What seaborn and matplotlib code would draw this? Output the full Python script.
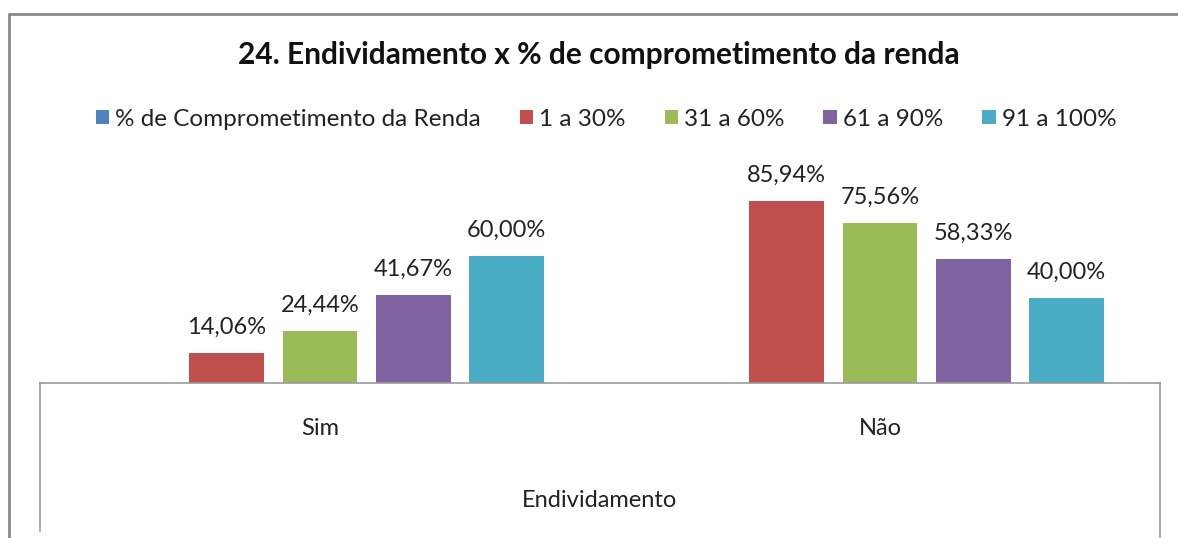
import pandas as pd
import matplotlib
matplotlib.use('Agg')
import matplotlib.pyplot as plt
from matplotlib.lines import Line2D
import seaborn as sns

# dados
categorias = ['Sim', 'Não']
series = ['% de Comprometimento da Renda', '1 a 30%', '31 a 60%', '61 a 90%', '91 a 100%']
valores_sim = [0.0, 14.06, 24.44, 41.67, 60.00]
valores_nao = [0.0, 85.94, 75.56, 58.33, 40.00]
cores = ['#4F81BD', '#C0504D', '#9BBB59', '#8064A2', '#4BACC6']

rows = []
for s, v in zip(series, valores_sim):
    rows.append({'Endividamento': 'Sim', 'serie': s, 'valor': v})
for s, v in zip(series, valores_nao):
    rows.append({'Endividamento': 'Não', 'serie': s, 'valor': v})
df = pd.DataFrame(rows)

sns.set_style('white')
plt.rcParams['font.family'] = ['Lato', 'DejaVu Sans']

fig = plt.figure(figsize=(11.78, 5.38), dpi=100)
ax = fig.add_axes([40/1178, 155/538, 1120/1178, 212/538])

sns.barplot(data=df, x='Endividamento', y='valor', hue='serie', order=categorias,
            hue_order=series, palette=cores, width=5/6, gap=0.2, linewidth=0,
            saturation=1, ax=ax)

ax.set_xlim(-0.5, 1.5)
ax.set_ylim(0, 100)
ax.set_yticks([])
ax.set_ylabel('')
for sp in ['top', 'left', 'right']:
    ax.spines[sp].set_visible(False)
ax.spines['bottom'].set_color('#9a9a9a')
ax.spines['bottom'].set_linewidth(1.2)
ax.tick_params(axis='x', length=0, pad=25, labelsize=17, labelcolor='#222222')
ax.set_xlabel('Endividamento', fontsize=17, color='#222222', labelpad=37)

# rotulos de dados (a primeira serie nao tem barras)
for cont in ax.containers[1:]:
    labels = [f'{b.get_height():.2f}%'.replace('.', ',') for b in cont]
    ax.bar_label(cont, labels=labels, padding=11, fontsize=17, color='#222222')

handles, labs = ax.get_legend_handles_labels()
ax.legend(handles, labs, ncol=5, loc='center', bbox_to_anchor=(606/1178, 1 - 119/538),
          bbox_transform=fig.transFigure, frameon=False, fontsize=17.5,
          handlelength=0.55, handleheight=0.55, handletextpad=0.25, columnspacing=1.6,
          labelcolor='#222222')

fig.text(599/1178, 1 - 55/538, '24. Endividamento x % de comprometimento da renda',
         ha='center', va='center', fontsize=21.5, fontweight='bold', color='#111111')

# linhas da tabela do eixo de categorias
ax.add_line(Line2D([0, 0], [0, -0.70], transform=ax.transAxes, color='#9a9a9a', lw=1.2, clip_on=False))
ax.add_line(Line2D([1, 1], [0, -0.75], transform=ax.transAxes, color='#9a9a9a', lw=1.2, clip_on=False))

# moldura externa
fig.add_artist(Line2D([9/1178, 9/1178], [0, 1 - 14/538], transform=fig.transFigure, color='#8a8a8a', lw=2))
fig.add_artist(Line2D([9/1178, 1], [1 - 14/538, 1 - 14/538], transform=fig.transFigure, color='#8a8a8a', lw=2))

fig.savefig('out.png', dpi=100)
